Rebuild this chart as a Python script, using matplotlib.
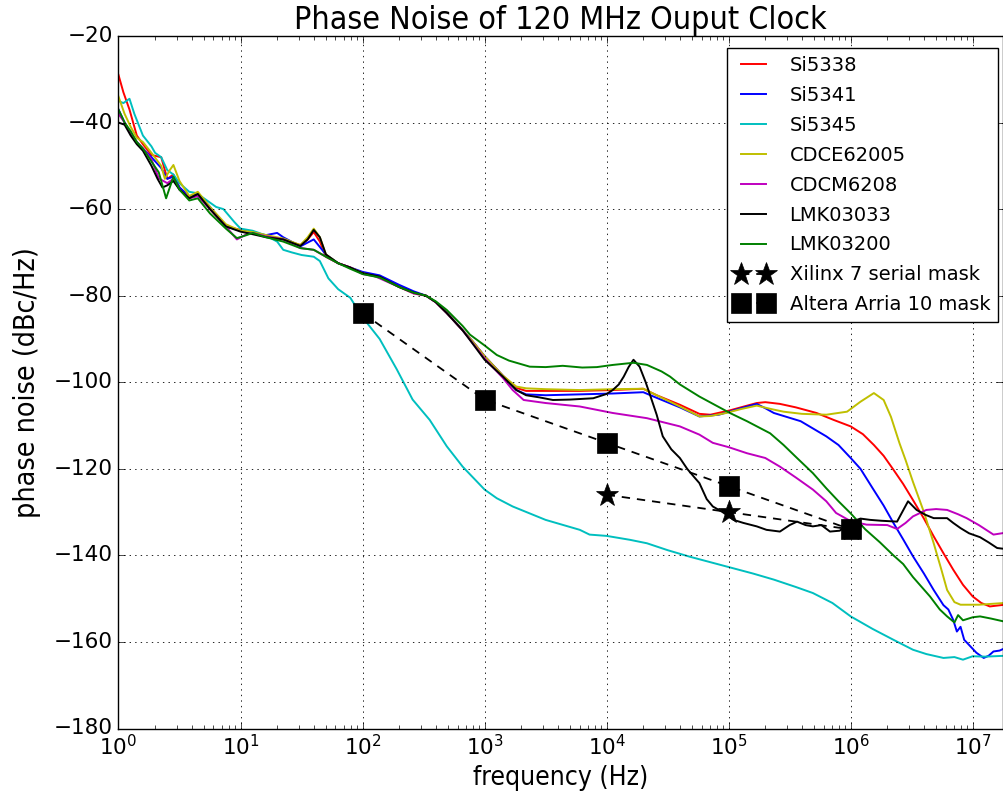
import numpy as np
import matplotlib
matplotlib.use('Agg')
import matplotlib.pyplot as plt
from matplotlib import font_manager as fm
from matplotlib.ticker import NullFormatter, LogLocator

# ---------------- data (log10 frequency, dBc/Hz) ----------------
si5338 = [(0, -29), (0.04, -33), (0.09, -37), (0.15, -43), (0.2, -45), (0.27, -47.5), (0.35, -48),
          (0.4, -53), (0.45, -52), (0.5, -55), (0.58, -57.5), (0.65, -56.5), (0.75, -60), (0.88, -64),
          (1.0, -64.8), (1.1, -65.5), (1.21, -66.3), (1.35, -67), (1.49, -68.3), (1.55, -67), (1.6, -65.3),
          (1.65, -67.5), (1.7, -71), (1.8, -72.5), (1.9, -73.5), (2.0, -74.8), (2.14, -75.6), (2.3, -77.9),
          (2.42, -79.3), (2.52, -80), (2.6, -81.5), (2.69, -84), (2.82, -88), (2.9, -90.5), (3.0, -94),
          (3.15, -98.5), (3.26, -101.3), (3.34, -102), (3.5, -102), (3.78, -102), (4.05, -101.8),
          (4.3, -101.5), (4.41, -103), (4.6, -105.2), (4.76, -107.3), (4.85, -107.5), (5.01, -106.5),
          (5.1, -105.8), (5.23, -104.8), (5.3, -104.6), (5.42, -105), (5.55, -105.8), (5.72, -107.1),
          (5.86, -108.7), (6.0, -110.2), (6.1, -112), (6.19, -114.5), (6.27, -117), (6.35, -120.2),
          (6.43, -123.5), (6.51, -127.2), (6.6, -131.5), (6.68, -135.6), (6.76, -139.5), (6.84, -143.3),
          (6.92, -146.8), (7.0, -149.5), (7.07, -151), (7.14, -151.8), (7.2, -151.6), (7.26, -151.4)]

si5341 = [(0, -37), (0.05, -40), (0.1, -42.5), (0.15, -44.5), (0.2, -46), (0.27, -48), (0.35, -50.5),
          (0.4, -53), (0.45, -52.5), (0.5, -55), (0.58, -57), (0.65, -56.5), (0.75, -59.5), (0.88, -64),
          (1.0, -65), (1.1, -65.5), (1.21, -66), (1.3, -65.5), (1.35, -66.5), (1.49, -68.6), (1.6, -67),
          (1.7, -70.5), (1.8, -72.5), (1.9, -73.5), (2.0, -74.5), (2.14, -75.3), (2.3, -77.5), (2.42, -79),
          (2.52, -80), (2.6, -81.5), (2.69, -84), (2.82, -88), (2.9, -90.5), (3.0, -94), (3.15, -98.5),
          (3.26, -101.8), (3.34, -102.8), (3.5, -103), (3.78, -102.8), (4.05, -102.6), (4.3, -102.3),
          (4.41, -103.6), (4.6, -105.8), (4.76, -107.9), (4.92, -107.5), (5.1, -106), (5.23, -105),
          (5.3, -106), (5.37, -107.1), (5.59, -109), (5.8, -112.5), (5.9, -114.5), (6.0, -117.5),
          (6.08, -120), (6.18, -124.5), (6.27, -128.5), (6.35, -132.5), (6.43, -136.3), (6.51, -140.2),
          (6.6, -144.2), (6.68, -148), (6.76, -151.5), (6.8, -152.5), (6.84, -154.9), (6.87, -157.6),
          (6.9, -156.5), (6.93, -159.5), (6.98, -161), (7.03, -162.5), (7.09, -163.7), (7.13, -163.2),
          (7.17, -162.2), (7.22, -162), (7.26, -161.5)]

si5345 = [(0, -35), (0.04, -35.5), (0.09, -34.5), (0.13, -38), (0.2, -43), (0.27, -45.5), (0.3, -47),
          (0.35, -48), (0.4, -51), (0.45, -52), (0.5, -54), (0.58, -56), (0.64, -56.3), (0.7, -57.5),
          (0.8, -59.5), (0.86, -60), (0.95, -63), (1.0, -64.5), (1.1, -65), (1.2, -66), (1.3, -67.5),
          (1.35, -69.4), (1.42, -70), (1.5, -70.6), (1.6, -71), (1.65, -72), (1.72, -76), (1.8, -78.5),
          (1.9, -80.5), (2.0, -85), (2.14, -90), (2.28, -97), (2.41, -104), (2.55, -108.7), (2.69, -114.8),
          (2.82, -119.5), (3.0, -124.8), (3.1, -126.8), (3.23, -128.7), (3.5, -131.8), (3.78, -134.1),
          (3.86, -135.2), (4.0, -135.5), (4.19, -136.4), (4.33, -137.2), (4.5, -138.8), (4.68, -140.3),
          (5.0, -142.7), (5.2, -144.2), (5.37, -145.6), (5.55, -147.3), (5.69, -148.7), (5.85, -151),
          (6.0, -154.1), (6.18, -157), (6.35, -159.5), (6.51, -161.8), (6.62, -162.8), (6.76, -163.7),
          (6.85, -163.5), (6.92, -164.1), (7.0, -163.3), (7.1, -163.4), (7.26, -163.2)]

cdce62005 = [(0, -34), (0.05, -38), (0.1, -41), (0.15, -43.5), (0.2, -44.5), (0.27, -47), (0.35, -50),
             (0.38, -53), (0.42, -51), (0.45, -49.8), (0.5, -53.5), (0.58, -57), (0.65, -56), (0.75, -59.5),
             (0.88, -63.5), (1.0, -65), (1.1, -65.3), (1.21, -66), (1.35, -66.8), (1.49, -68.3), (1.55, -66.5),
             (1.6, -64.5), (1.65, -66.5), (1.7, -70.5), (1.8, -72.5), (1.9, -73.5), (2.0, -74.8), (2.14, -75.8),
             (2.3, -78), (2.42, -79.5), (2.52, -80), (2.6, -81.5), (2.69, -84), (2.82, -88), (2.9, -90.5),
             (3.0, -94), (3.15, -98.5), (3.26, -101), (3.34, -101.4), (3.5, -101.6), (3.78, -101.8),
             (4.05, -101.6), (4.3, -101.5), (4.41, -103), (4.6, -105.6), (4.76, -107.9), (4.85, -107.8),
             (4.98, -107.1), (5.1, -106.2), (5.23, -105.4), (5.35, -106.2), (5.45, -106.8), (5.6, -107.3),
             (5.8, -107.5), (5.97, -106.8), (6.08, -104.5), (6.19, -102.5), (6.27, -104.1), (6.33, -108),
             (6.4, -114.1), (6.45, -118), (6.51, -123), (6.6, -130), (6.68, -137.2), (6.74, -143),
             (6.79, -148), (6.85, -150.8), (6.9, -151.4), (7.05, -151.4), (7.26, -151)]

cdcm6208 = [(0, -38), (0.05, -40), (0.1, -42.5), (0.15, -44.5), (0.2, -46), (0.27, -48.5), (0.33, -52.9),
            (0.4, -54), (0.45, -53), (0.5, -55.5), (0.58, -57.5), (0.65, -57), (0.75, -60), (0.88, -64),
            (0.97, -67), (1.05, -65.8), (1.1, -65.5), (1.21, -66.3), (1.35, -67), (1.49, -69), (1.6, -69.4),
            (1.7, -71), (1.8, -72.5), (1.9, -73.5), (2.0, -75), (2.1, -75.5), (2.14, -76), (2.3, -78),
            (2.42, -79.5), (2.52, -80), (2.6, -81.5), (2.69, -84), (2.82, -88), (3.0, -94.5), (3.15, -99),
            (3.23, -101.8), (3.32, -104.1), (3.5, -104.8), (3.78, -105.6), (4.05, -107.1), (4.33, -108.3),
            (4.6, -110.2), (4.76, -112.1), (4.87, -114), (5.0, -115), (5.15, -116.4), (5.3, -117.5),
            (5.42, -119.5), (5.55, -122), (5.69, -124.8), (5.8, -127.5), (5.88, -130.2), (6.0, -132.1),
            (6.13, -132.9), (6.3, -133), (6.38, -133.9), (6.45, -132.5), (6.51, -131), (6.62, -129.5),
            (6.7, -129.3), (6.79, -129.5), (6.88, -130.5), (6.95, -131.4), (7.05, -133), (7.17, -135.2),
            (7.26, -134.8)]

lmk03033 = [(0, -40), (0.05, -40.5), (0.1, -43), (0.15, -45), (0.2, -46.5), (0.27, -50), (0.32, -53),
            (0.36, -55), (0.4, -54.5), (0.45, -53.5), (0.5, -55.5), (0.58, -57.5), (0.65, -56.5), (0.75, -60),
            (0.88, -64), (1.0, -65.2), (1.1, -65.8), (1.21, -66.5), (1.35, -67), (1.49, -68.5), (1.55, -67),
            (1.6, -64.8), (1.65, -66.5), (1.7, -70.5), (1.8, -72.5), (1.9, -73.5), (2.0, -74.8), (2.14, -75.6),
            (2.3, -78), (2.42, -79.3), (2.52, -80), (2.6, -81.5), (2.69, -84), (2.82, -88), (2.9, -91),
            (3.0, -94.8), (3.15, -98.7), (3.26, -101.8), (3.34, -103), (3.45, -103.5), (3.56, -104.1),
            (3.7, -104), (3.89, -103.7), (4.0, -102.7), (4.05, -101.8), (4.1, -100.5), (4.14, -98.7),
            (4.18, -96.5), (4.22, -94.8), (4.27, -96.4), (4.32, -100), (4.36, -103.3), (4.41, -107.5),
            (4.46, -112.5), (4.53, -115.5), (4.6, -117.5), (4.66, -120), (4.72, -122), (4.76, -123.3),
            (4.82, -127), (4.87, -128.7), (4.95, -130), (5.04, -131.8), (5.12, -132.5), (5.23, -133.3),
            (5.31, -134.1), (5.42, -134.5), (5.5, -133), (5.56, -132.2), (5.63, -133), (5.69, -133.3),
            (5.76, -133), (5.83, -134.5), (5.91, -134.3), (6.0, -132.3), (6.08, -131.5), (6.16, -131.8),
            (6.25, -132), (6.38, -132.2), (6.47, -127.5), (6.54, -129.5), (6.61, -130.6), (6.68, -131.4),
            (6.79, -131.4), (6.84, -132.5), (6.9, -133.7), (6.97, -134.9), (7.06, -135.8), (7.13, -137),
            (7.2, -138.3), (7.26, -138.5)]

lmk03200 = [(0, -37), (0.05, -40), (0.1, -42), (0.15, -44.5), (0.2, -46), (0.27, -49), (0.33, -51.5),
            (0.39, -57.5), (0.42, -55), (0.45, -52.5), (0.5, -55.5), (0.58, -58), (0.65, -57.5), (0.75, -61),
            (0.88, -64.5), (0.97, -66.7), (1.05, -66), (1.1, -65.5), (1.21, -66.5), (1.35, -67.5),
            (1.49, -69), (1.6, -69.4), (1.7, -71), (1.8, -72.5), (1.9, -73.8), (2.0, -75), (2.14, -75.8),
            (2.3, -78), (2.42, -79.3), (2.52, -80), (2.6, -81.3), (2.69, -83.3), (2.82, -87), (2.88, -89),
            (3.0, -91.5), (3.1, -93.7), (3.2, -95), (3.37, -96.4), (3.5, -96.5), (3.64, -96.2), (3.8, -96.6),
            (3.92, -96.5), (4.05, -96), (4.22, -95.5), (4.33, -96), (4.45, -97.5), (4.52, -98.7),
            (4.6, -100.5), (4.76, -103.3), (5.01, -107.1), (5.15, -109), (5.34, -111.8), (5.45, -114.5),
            (5.56, -117.5), (5.69, -121), (5.8, -124.5), (5.9, -127.5), (6.0, -130.3), (6.12, -134),
            (6.24, -137), (6.35, -140), (6.43, -142), (6.51, -145), (6.65, -149.5), (6.73, -152.5),
            (6.79, -154.1), (6.85, -155.5), (6.88, -153.8), (6.92, -155), (7.0, -154.3), (7.06, -154.1),
            (7.15, -154.6), (7.26, -155.3)]

xilinx_f = [1e4, 1e5, 1e6]
xilinx_db = [-126, -130, -134]
altera_f = [1e2, 1e3, 1e4, 1e5, 1e6]
altera_db = [-84, -104, -114, -124, -134]

series_names = ['Si5338', 'Si5341', 'Si5345', 'CDCE62005', 'CDCM6208', 'LMK03033', 'LMK03200']
series_data = [si5338, si5341, si5345, cdce62005, cdcm6208, lmk03033, lmk03200]
series_colors = ['r', 'b', 'c', 'y', 'm', 'k', 'g']
x_ticks = [1e0, 1e1, 1e2, 1e3, 1e4, 1e5, 1e6, 1e7]
y_ticks = [-180, -160, -140, -120, -100, -80, -60, -40, -20]

# ---------------- style ----------------
plt.style.use('classic')
plt.rcParams.update({
    'figure.facecolor': 'white',
    'savefig.facecolor': 'white',
    'font.family': ['DejaVu Sans'],
})

label_stretch = 'normal'
try:
    p = fm.findfont(fm.FontProperties(family='DejaVu Sans', stretch='condensed'), fallback_to_default=False)
    if 'ondensed' in p:
        label_stretch = 'condensed'
except Exception:
    pass

fig = plt.figure(figsize=(10.04, 8.02), dpi=100)
ax = fig.add_axes([118.5 / 1004, 73.5 / 802, 884.5 / 1004, 692.5 / 802])

for name, data, col in zip(series_names, series_data, series_colors):
    arr = np.array(data, dtype=float)
    ax.plot(10 ** arr[:, 0], arr[:, 1], color=col, lw=1.4, label=name)

ax.plot(xilinx_f, xilinx_db, 'k*--', ms=17, mew=0.5, lw=1.3, dashes=(6, 5),
        label='Xilinx 7 serial mask')
ax.plot(altera_f, altera_db, 'ks--', ms=14, mew=0.5, lw=1.3, dashes=(6, 5),
        label='Altera Arria 10 mask')

ax.set_xscale('log')
ax.set_xlim(1, 10 ** 7.248)
ax.set_ylim(-180, -20)
ax.set_xticks(x_ticks)
ax.xaxis.set_minor_locator(LogLocator(base=10, subs=np.arange(2, 10)))
ax.xaxis.set_minor_formatter(NullFormatter())
ax.set_yticks(y_ticks)
ax.grid(True, color='k', linestyle=':', lw=0.6)
ax.tick_params(axis='both', which='major', labelsize=15.5, direction='in', length=5, top=True, right=True)
ax.tick_params(axis='both', which='minor', direction='in', length=3, top=True, right=True)

ax.set_title('Phase Noise of 120 MHz Ouput Clock', fontsize=23, fontstretch=label_stretch, pad=5)
ax.set_xlabel('frequency (Hz)', fontsize=19, fontstretch=label_stretch, labelpad=4)
ax.set_ylabel('phase noise (dBc/Hz)', fontsize=20.5, fontstretch=label_stretch, labelpad=9)

leg = ax.legend(loc='upper right', bbox_to_anchor=(0.9943, 0.9822), borderaxespad=0,
                fontsize=14, numpoints=2, handlelength=1.9, handletextpad=0.9,
                labelspacing=0.56, fancybox=False, frameon=True)
leg.get_frame().set_edgecolor('k')
leg.get_frame().set_linewidth(1.0)

fig.savefig('out.png', dpi=100)
